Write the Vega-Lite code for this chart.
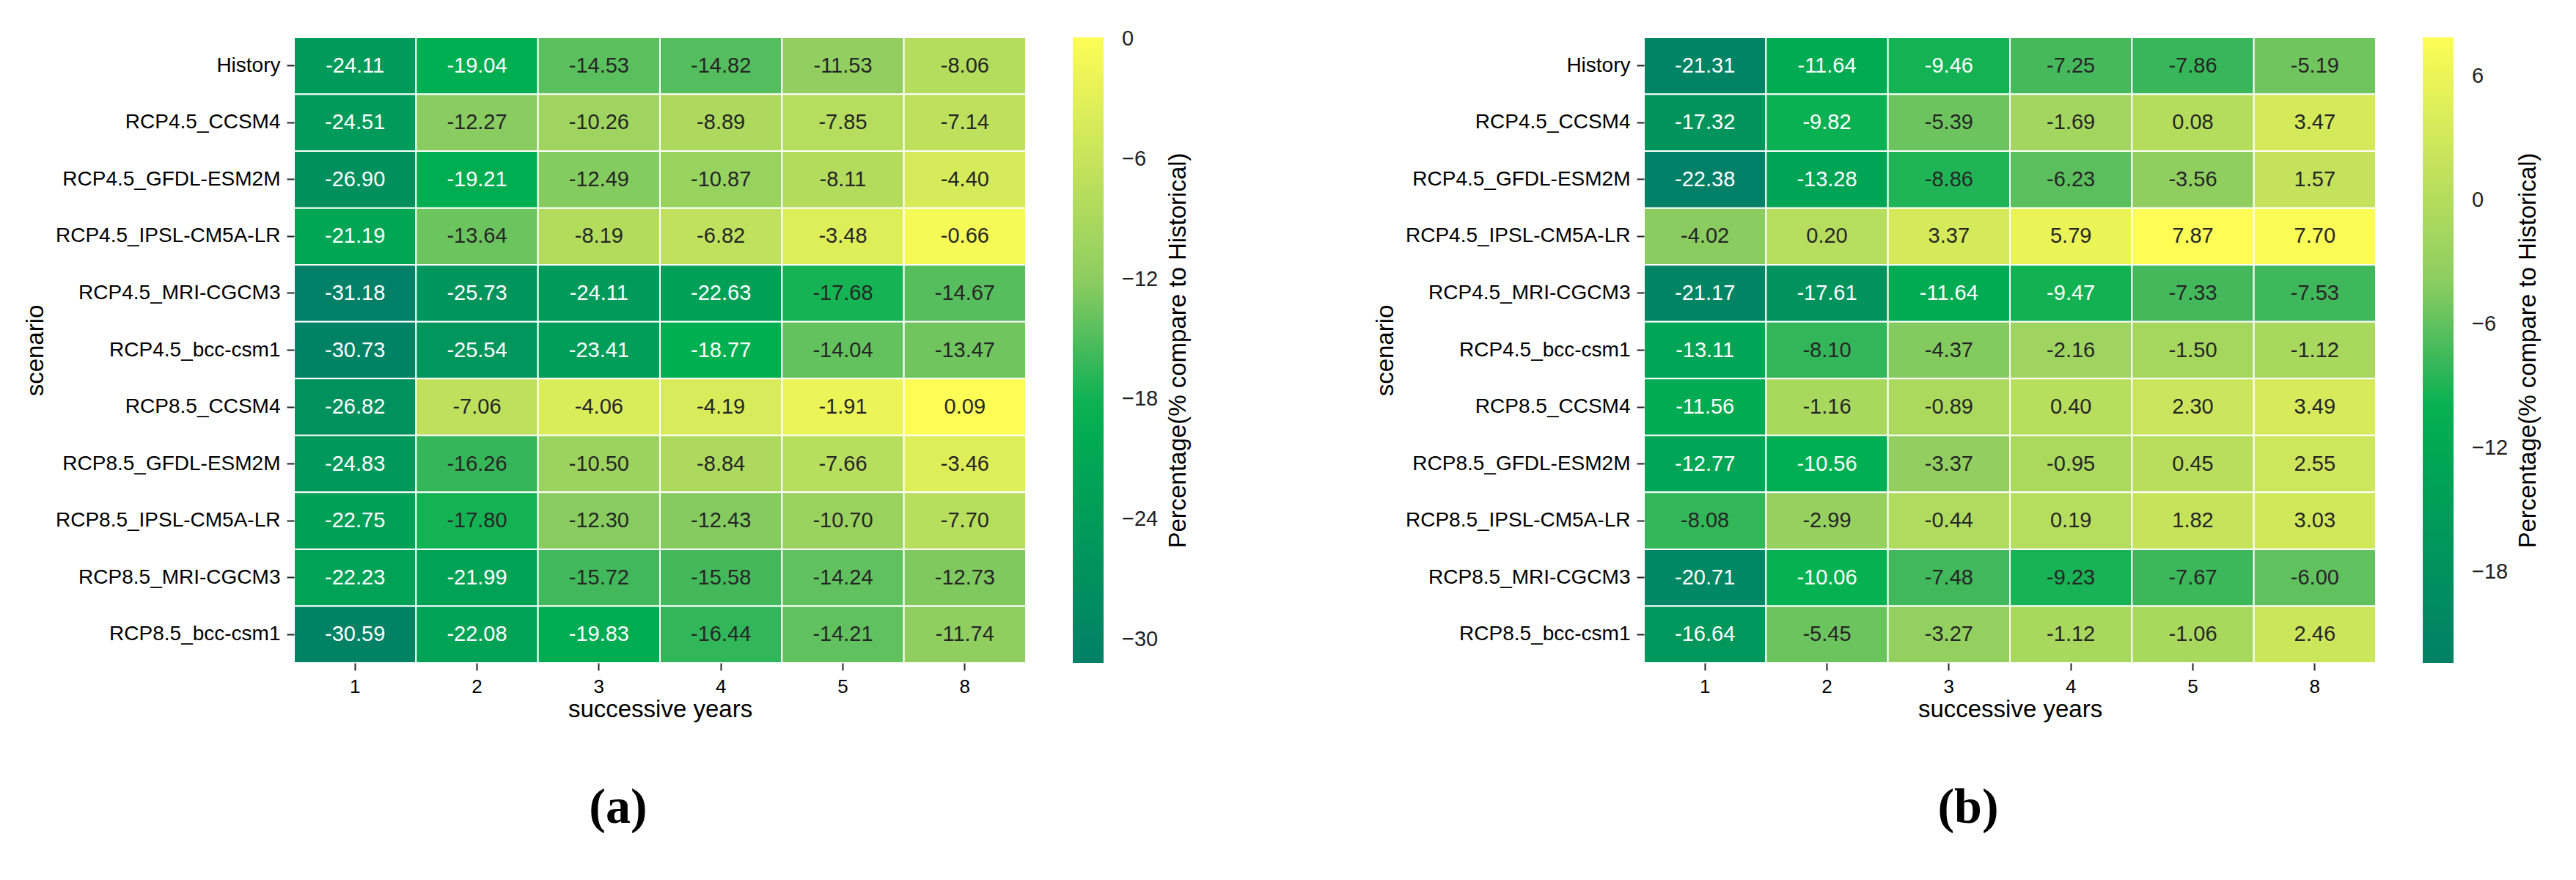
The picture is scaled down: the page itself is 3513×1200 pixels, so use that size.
{
  "$schema": "https://vega.github.io/schema/vega-lite/v6.json",
  "padding": {"left": 32, "top": 50, "right": 0, "bottom": 0},
  "background": "white",
  "config": {
    "font": "Liberation Sans",
    "view": {"stroke": null},
    "locale": {"number": {"decimal": ".", "thousands": ",", "grouping": [3], "currency": ["$", ""], "minus": "-"}},
    "axis": {
      "domain": false,
      "labelFont": "Liberation Sans",
      "labelFontSize": 28,
      "labelColor": "black",
      "tickColor": "#222222",
      "tickWidth": 2,
      "tickSize": 10,
      "labelPadding": 9,
      "titleFont": "Liberation Sans",
      "titleFontSize": 33,
      "titleFontWeight": "normal",
      "titleColor": "black",
      "titleLimit": 1000,
      "grid": false
    },
    "legend": {
      "padding": 0,
      "labelFont": "Liberation Sans",
      "labelFontSize": 29,
      "labelColor": "#222222",
      "titleFont": "Liberation Sans",
      "titleFontSize": 33,
      "titleFontWeight": "normal",
      "titleColor": "black",
      "titleLimit": 1000
    },
    "title": {"font": "Liberation Serif", "fontSize": 68, "fontWeight": "bold", "color": "black"}
  },
  "datasets": {
    "a": [
      {"scenario": "History", "year": "1", "value": -24.11},
      {"scenario": "History", "year": "2", "value": -19.04},
      {"scenario": "History", "year": "3", "value": -14.53},
      {"scenario": "History", "year": "4", "value": -14.82},
      {"scenario": "History", "year": "5", "value": -11.53},
      {"scenario": "History", "year": "8", "value": -8.06},
      {"scenario": "RCP4.5_CCSM4", "year": "1", "value": -24.51},
      {"scenario": "RCP4.5_CCSM4", "year": "2", "value": -12.27},
      {"scenario": "RCP4.5_CCSM4", "year": "3", "value": -10.26},
      {"scenario": "RCP4.5_CCSM4", "year": "4", "value": -8.89},
      {"scenario": "RCP4.5_CCSM4", "year": "5", "value": -7.85},
      {"scenario": "RCP4.5_CCSM4", "year": "8", "value": -7.14},
      {"scenario": "RCP4.5_GFDL-ESM2M", "year": "1", "value": -26.90},
      {"scenario": "RCP4.5_GFDL-ESM2M", "year": "2", "value": -19.21},
      {"scenario": "RCP4.5_GFDL-ESM2M", "year": "3", "value": -12.49},
      {"scenario": "RCP4.5_GFDL-ESM2M", "year": "4", "value": -10.87},
      {"scenario": "RCP4.5_GFDL-ESM2M", "year": "5", "value": -8.11},
      {"scenario": "RCP4.5_GFDL-ESM2M", "year": "8", "value": -4.40},
      {"scenario": "RCP4.5_IPSL-CM5A-LR", "year": "1", "value": -21.19},
      {"scenario": "RCP4.5_IPSL-CM5A-LR", "year": "2", "value": -13.64},
      {"scenario": "RCP4.5_IPSL-CM5A-LR", "year": "3", "value": -8.19},
      {"scenario": "RCP4.5_IPSL-CM5A-LR", "year": "4", "value": -6.82},
      {"scenario": "RCP4.5_IPSL-CM5A-LR", "year": "5", "value": -3.48},
      {"scenario": "RCP4.5_IPSL-CM5A-LR", "year": "8", "value": -0.66},
      {"scenario": "RCP4.5_MRI-CGCM3", "year": "1", "value": -31.18},
      {"scenario": "RCP4.5_MRI-CGCM3", "year": "2", "value": -25.73},
      {"scenario": "RCP4.5_MRI-CGCM3", "year": "3", "value": -24.11},
      {"scenario": "RCP4.5_MRI-CGCM3", "year": "4", "value": -22.63},
      {"scenario": "RCP4.5_MRI-CGCM3", "year": "5", "value": -17.68},
      {"scenario": "RCP4.5_MRI-CGCM3", "year": "8", "value": -14.67},
      {"scenario": "RCP4.5_bcc-csm1", "year": "1", "value": -30.73},
      {"scenario": "RCP4.5_bcc-csm1", "year": "2", "value": -25.54},
      {"scenario": "RCP4.5_bcc-csm1", "year": "3", "value": -23.41},
      {"scenario": "RCP4.5_bcc-csm1", "year": "4", "value": -18.77},
      {"scenario": "RCP4.5_bcc-csm1", "year": "5", "value": -14.04},
      {"scenario": "RCP4.5_bcc-csm1", "year": "8", "value": -13.47},
      {"scenario": "RCP8.5_CCSM4", "year": "1", "value": -26.82},
      {"scenario": "RCP8.5_CCSM4", "year": "2", "value": -7.06},
      {"scenario": "RCP8.5_CCSM4", "year": "3", "value": -4.06},
      {"scenario": "RCP8.5_CCSM4", "year": "4", "value": -4.19},
      {"scenario": "RCP8.5_CCSM4", "year": "5", "value": -1.91},
      {"scenario": "RCP8.5_CCSM4", "year": "8", "value": 0.09},
      {"scenario": "RCP8.5_GFDL-ESM2M", "year": "1", "value": -24.83},
      {"scenario": "RCP8.5_GFDL-ESM2M", "year": "2", "value": -16.26},
      {"scenario": "RCP8.5_GFDL-ESM2M", "year": "3", "value": -10.50},
      {"scenario": "RCP8.5_GFDL-ESM2M", "year": "4", "value": -8.84},
      {"scenario": "RCP8.5_GFDL-ESM2M", "year": "5", "value": -7.66},
      {"scenario": "RCP8.5_GFDL-ESM2M", "year": "8", "value": -3.46},
      {"scenario": "RCP8.5_IPSL-CM5A-LR", "year": "1", "value": -22.75},
      {"scenario": "RCP8.5_IPSL-CM5A-LR", "year": "2", "value": -17.80},
      {"scenario": "RCP8.5_IPSL-CM5A-LR", "year": "3", "value": -12.30},
      {"scenario": "RCP8.5_IPSL-CM5A-LR", "year": "4", "value": -12.43},
      {"scenario": "RCP8.5_IPSL-CM5A-LR", "year": "5", "value": -10.70},
      {"scenario": "RCP8.5_IPSL-CM5A-LR", "year": "8", "value": -7.70},
      {"scenario": "RCP8.5_MRI-CGCM3", "year": "1", "value": -22.23},
      {"scenario": "RCP8.5_MRI-CGCM3", "year": "2", "value": -21.99},
      {"scenario": "RCP8.5_MRI-CGCM3", "year": "3", "value": -15.72},
      {"scenario": "RCP8.5_MRI-CGCM3", "year": "4", "value": -15.58},
      {"scenario": "RCP8.5_MRI-CGCM3", "year": "5", "value": -14.24},
      {"scenario": "RCP8.5_MRI-CGCM3", "year": "8", "value": -12.73},
      {"scenario": "RCP8.5_bcc-csm1", "year": "1", "value": -30.59},
      {"scenario": "RCP8.5_bcc-csm1", "year": "2", "value": -22.08},
      {"scenario": "RCP8.5_bcc-csm1", "year": "3", "value": -19.83},
      {"scenario": "RCP8.5_bcc-csm1", "year": "4", "value": -16.44},
      {"scenario": "RCP8.5_bcc-csm1", "year": "5", "value": -14.21},
      {"scenario": "RCP8.5_bcc-csm1", "year": "8", "value": -11.74}
    ],
    "b": [
      {"scenario": "History", "year": "1", "value": -21.31},
      {"scenario": "History", "year": "2", "value": -11.64},
      {"scenario": "History", "year": "3", "value": -9.46},
      {"scenario": "History", "year": "4", "value": -7.25},
      {"scenario": "History", "year": "5", "value": -7.86},
      {"scenario": "History", "year": "8", "value": -5.19},
      {"scenario": "RCP4.5_CCSM4", "year": "1", "value": -17.32},
      {"scenario": "RCP4.5_CCSM4", "year": "2", "value": -9.82},
      {"scenario": "RCP4.5_CCSM4", "year": "3", "value": -5.39},
      {"scenario": "RCP4.5_CCSM4", "year": "4", "value": -1.69},
      {"scenario": "RCP4.5_CCSM4", "year": "5", "value": 0.08},
      {"scenario": "RCP4.5_CCSM4", "year": "8", "value": 3.47},
      {"scenario": "RCP4.5_GFDL-ESM2M", "year": "1", "value": -22.38},
      {"scenario": "RCP4.5_GFDL-ESM2M", "year": "2", "value": -13.28},
      {"scenario": "RCP4.5_GFDL-ESM2M", "year": "3", "value": -8.86},
      {"scenario": "RCP4.5_GFDL-ESM2M", "year": "4", "value": -6.23},
      {"scenario": "RCP4.5_GFDL-ESM2M", "year": "5", "value": -3.56},
      {"scenario": "RCP4.5_GFDL-ESM2M", "year": "8", "value": 1.57},
      {"scenario": "RCP4.5_IPSL-CM5A-LR", "year": "1", "value": -4.02},
      {"scenario": "RCP4.5_IPSL-CM5A-LR", "year": "2", "value": 0.20},
      {"scenario": "RCP4.5_IPSL-CM5A-LR", "year": "3", "value": 3.37},
      {"scenario": "RCP4.5_IPSL-CM5A-LR", "year": "4", "value": 5.79},
      {"scenario": "RCP4.5_IPSL-CM5A-LR", "year": "5", "value": 7.87},
      {"scenario": "RCP4.5_IPSL-CM5A-LR", "year": "8", "value": 7.70},
      {"scenario": "RCP4.5_MRI-CGCM3", "year": "1", "value": -21.17},
      {"scenario": "RCP4.5_MRI-CGCM3", "year": "2", "value": -17.61},
      {"scenario": "RCP4.5_MRI-CGCM3", "year": "3", "value": -11.64},
      {"scenario": "RCP4.5_MRI-CGCM3", "year": "4", "value": -9.47},
      {"scenario": "RCP4.5_MRI-CGCM3", "year": "5", "value": -7.33},
      {"scenario": "RCP4.5_MRI-CGCM3", "year": "8", "value": -7.53},
      {"scenario": "RCP4.5_bcc-csm1", "year": "1", "value": -13.11},
      {"scenario": "RCP4.5_bcc-csm1", "year": "2", "value": -8.10},
      {"scenario": "RCP4.5_bcc-csm1", "year": "3", "value": -4.37},
      {"scenario": "RCP4.5_bcc-csm1", "year": "4", "value": -2.16},
      {"scenario": "RCP4.5_bcc-csm1", "year": "5", "value": -1.50},
      {"scenario": "RCP4.5_bcc-csm1", "year": "8", "value": -1.12},
      {"scenario": "RCP8.5_CCSM4", "year": "1", "value": -11.56},
      {"scenario": "RCP8.5_CCSM4", "year": "2", "value": -1.16},
      {"scenario": "RCP8.5_CCSM4", "year": "3", "value": -0.89},
      {"scenario": "RCP8.5_CCSM4", "year": "4", "value": 0.40},
      {"scenario": "RCP8.5_CCSM4", "year": "5", "value": 2.30},
      {"scenario": "RCP8.5_CCSM4", "year": "8", "value": 3.49},
      {"scenario": "RCP8.5_GFDL-ESM2M", "year": "1", "value": -12.77},
      {"scenario": "RCP8.5_GFDL-ESM2M", "year": "2", "value": -10.56},
      {"scenario": "RCP8.5_GFDL-ESM2M", "year": "3", "value": -3.37},
      {"scenario": "RCP8.5_GFDL-ESM2M", "year": "4", "value": -0.95},
      {"scenario": "RCP8.5_GFDL-ESM2M", "year": "5", "value": 0.45},
      {"scenario": "RCP8.5_GFDL-ESM2M", "year": "8", "value": 2.55},
      {"scenario": "RCP8.5_IPSL-CM5A-LR", "year": "1", "value": -8.08},
      {"scenario": "RCP8.5_IPSL-CM5A-LR", "year": "2", "value": -2.99},
      {"scenario": "RCP8.5_IPSL-CM5A-LR", "year": "3", "value": -0.44},
      {"scenario": "RCP8.5_IPSL-CM5A-LR", "year": "4", "value": 0.19},
      {"scenario": "RCP8.5_IPSL-CM5A-LR", "year": "5", "value": 1.82},
      {"scenario": "RCP8.5_IPSL-CM5A-LR", "year": "8", "value": 3.03},
      {"scenario": "RCP8.5_MRI-CGCM3", "year": "1", "value": -20.71},
      {"scenario": "RCP8.5_MRI-CGCM3", "year": "2", "value": -10.06},
      {"scenario": "RCP8.5_MRI-CGCM3", "year": "3", "value": -7.48},
      {"scenario": "RCP8.5_MRI-CGCM3", "year": "4", "value": -9.23},
      {"scenario": "RCP8.5_MRI-CGCM3", "year": "5", "value": -7.67},
      {"scenario": "RCP8.5_MRI-CGCM3", "year": "8", "value": -6.00},
      {"scenario": "RCP8.5_bcc-csm1", "year": "1", "value": -16.64},
      {"scenario": "RCP8.5_bcc-csm1", "year": "2", "value": -5.45},
      {"scenario": "RCP8.5_bcc-csm1", "year": "3", "value": -3.27},
      {"scenario": "RCP8.5_bcc-csm1", "year": "4", "value": -1.12},
      {"scenario": "RCP8.5_bcc-csm1", "year": "5", "value": -1.06},
      {"scenario": "RCP8.5_bcc-csm1", "year": "8", "value": 2.46}
    ]
  },
  "spacing": 248,
  "resolve": {"scale": {"color": "independent"}},
  "hconcat": [
    {
      "data": {"name": "a"},
      "width": 998,
      "height": 853,
      "title": {"text": "(a)", "orient": "bottom", "anchor": "middle", "dx": -57, "offset": 84},
      "encoding": {
        "x": {"field": "year", "type": "ordinal", "sort": null, "title": "successive years", "axis": {"labelAngle": 0, "labelFontSize": 26, "titlePadding": 2}},
        "y": {"field": "scenario", "type": "nominal", "sort": null, "title": "scenario", "axis": {"labelLimit": 500, "titlePadding": 136}}
      },
      "layer": [
        {
          "mark": {"type": "rect", "stroke": "white", "strokeWidth": 2},
          "encoding": {
            "color": {
              "field": "value", "type": "quantitative",
              "scale": {"domain": [-31.18, -18.672, -15.545, -12.105, -6.008, 0.09], "range": ["#008066", "#00b050", "#45b95c", "#8ccd60", "#c8e45c", "#fdfd55"], "interpolate": "rgb"},
              "legend": {
                "title": "Percentage(% compare to Historical)",
                "direction": "vertical",
                "gradientLength": 853,
                "gradientThickness": 42,
                "offset": 64,
                "labelOffset": 25,
                "values": [0, -6, -12, -18, -24, -30],
                "labelExpr": "replace(datum.label, '-', '\u2212')",
                "titleOrient": "right",
                "titleAnchor": "middle",
                "titlePadding": 12,
                "encode": {"title": {"update": {"angle": {"value": 270}, "baseline": {"value": "top"}}}}
              }
            }
          }
        },
        {
          "mark": {"type": "text", "fontSize": 29, "font": "Liberation Sans"},
          "encoding": {
            "text": {"field": "value", "type": "quantitative", "format": ".2f"},
            "color": {"condition": {"test": "datum.value < -18", "value": "white"}, "value": "#262626"}
          }
        }
      ]
    },
    {
      "data": {"name": "b"},
      "width": 998,
      "height": 853,
      "title": {"text": "(b)", "orient": "bottom", "anchor": "middle", "dx": -57, "offset": 84},
      "encoding": {
        "x": {"field": "year", "type": "ordinal", "sort": null, "title": "successive years", "axis": {"labelAngle": 0, "labelFontSize": 26, "titlePadding": 2}},
        "y": {"field": "scenario", "type": "nominal", "sort": null, "title": "scenario", "axis": {"labelLimit": 500, "titlePadding": 136}}
      },
      "layer": [
        {
          "mark": {"type": "rect", "stroke": "white", "strokeWidth": 2},
          "encoding": {
            "color": {
              "field": "value", "type": "quantitative",
              "scale": {"domain": [-22.38, -10.28, -7.255, -3.9275, 1.9713, 7.87], "range": ["#008066", "#00b050", "#45b95c", "#8ccd60", "#c8e45c", "#fdfd55"], "interpolate": "rgb"},
              "legend": {
                "title": "Percentage(% compare to Historical)",
                "direction": "vertical",
                "gradientLength": 853,
                "gradientThickness": 42,
                "offset": 64,
                "labelOffset": 25,
                "values": [6, 0, -6, -12, -18],
                "labelExpr": "replace(datum.label, '-', '\u2212')",
                "titleOrient": "right",
                "titleAnchor": "middle",
                "titlePadding": 12,
                "encode": {"title": {"update": {"angle": {"value": 270}, "baseline": {"value": "top"}}}}
              }
            }
          }
        },
        {
          "mark": {"type": "text", "fontSize": 29, "font": "Liberation Sans"},
          "encoding": {
            "text": {"field": "value", "type": "quantitative", "format": ".2f"},
            "color": {"condition": {"test": "datum.value < -9.35", "value": "white"}, "value": "#262626"}
          }
        }
      ]
    }
  ]
}
